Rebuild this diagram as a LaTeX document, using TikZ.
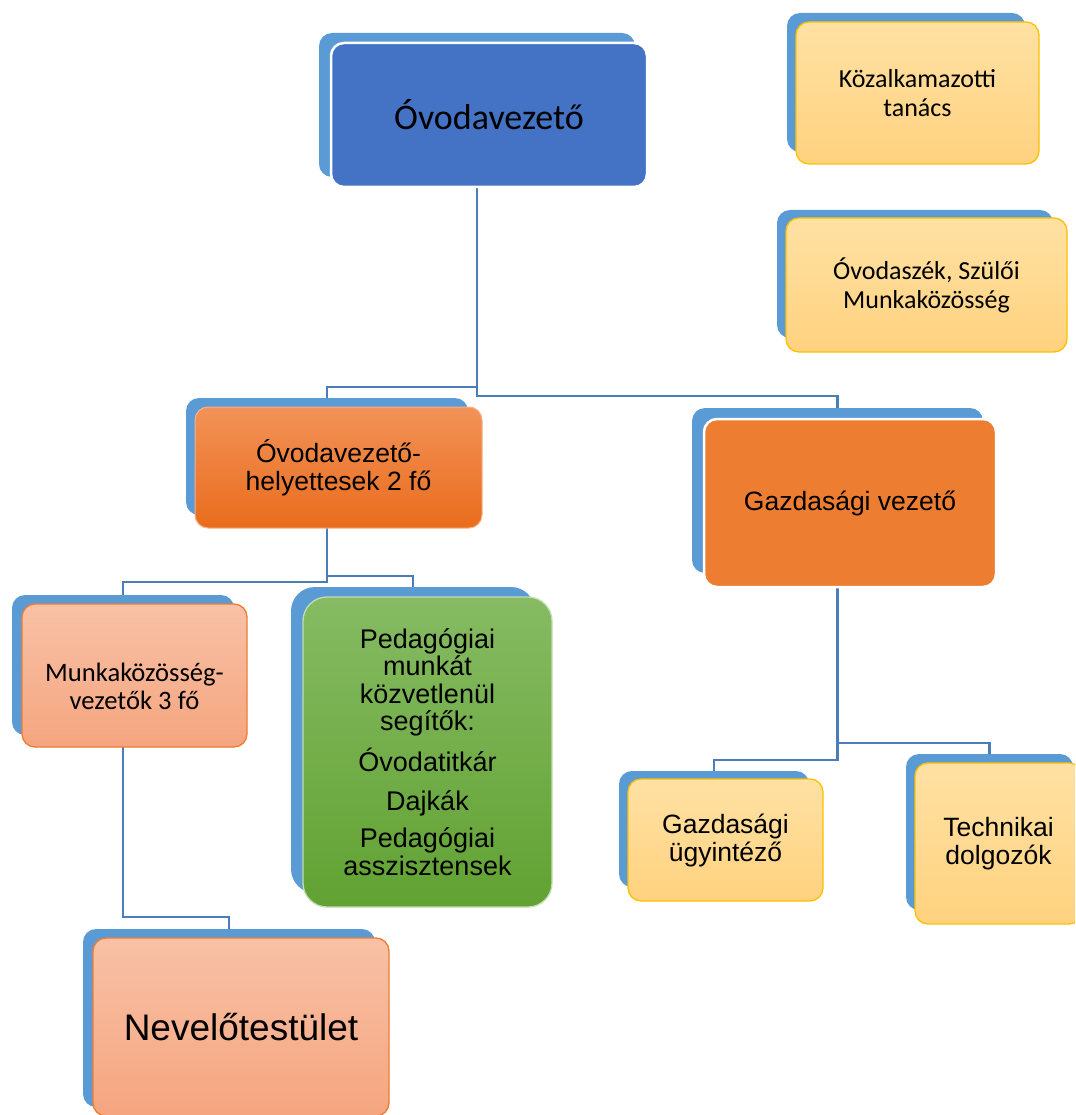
\documentclass[tikz,border=0pt]{standalone}
\usepackage{fontspec}
\setmainfont{Liberation Sans}
\newfontfamily\calfont{Carlito}
\definecolor{backblue}{HTML}{5B9BD5}
\definecolor{darkblue}{HTML}{4472C4}
\definecolor{conncol}{HTML}{4A7EBB}
\definecolor{goldline}{HTML}{FFC000}
\definecolor{yeltop}{HTML}{FFE1A3}
\definecolor{yelbot}{HTML}{FFD27F}
\definecolor{orgtop}{HTML}{F29258}
\definecolor{orgbot}{HTML}{E96C1C}
\definecolor{accorange}{HTML}{ED7D31}
\definecolor{salmtop}{HTML}{F8C1A6}
\definecolor{salmbot}{HTML}{F5A57F}
\definecolor{grtop}{HTML}{86BB63}
\definecolor{grbot}{HTML}{61A232}
\begin{document}
\begin{tikzpicture}[x=1pt,y=-1pt,
  bk/.style={fill=backblue, rounded corners=13pt, inner sep=0pt, outer sep=0pt},
  fr/.style={rounded corners=13pt, inner sep=2pt, outer sep=0pt, align=center, text=black},
  yelbox/.style={fr, top color=yeltop, bottom color=yelbot, draw=goldline, line width=1.3pt},
  salmbox/.style={fr, top color=salmtop, bottom color=salmbot, draw=accorange, line width=1.3pt},
  conn/.style={draw=conncol, line width=2.6pt},
  calsmall/.style={font={\calfont\fontsize{26}{29}\selectfont}},
  arl/.style={font={\fontsize{26.5}{28}\selectfont}}]
\useasboundingbox (0,0) rectangle (1075,1115);
\clip (0,0) rectangle (1075,1115);
% back boxes
\node[bk, minimum width=316pt, minimum height=144pt] (ovezB) at (477,105) {};
\node[bk, minimum width=238pt, minimum height=139pt] (kozalB) at (906,82.5) {};
\node[bk, minimum width=276pt, minimum height=128pt] (szuloB) at (915,274) {};
\node[bk, minimum width=282pt, minimum height=117pt] (helB) at (327,456.5) {};
\node[bk, minimum width=291pt, minimum height=165pt] (gazdvB) at (837.5,490.5) {};
\node[bk, minimum width=222pt, minimum height=140pt] (munkaB) at (123,665) {};
\node[bk, rounded corners=24pt, minimum width=244pt, minimum height=306pt] (greenB) at (413,740) {};
\node[bk, minimum width=190pt, minimum height=116pt] (gazduB) at (714,829) {};
\node[bk, minimum width=167pt, minimum height=156pt] (technB) at (989.5,832) {};
\node[bk, minimum width=292pt, minimum height=178pt] (nevelB) at (229,1018) {};
% connectors
\coordinate (j1) at (477,387);
\coordinate (j2) at (477,396);
\coordinate (j3) at (327,576);
\coordinate (j4) at (327,582);
\coordinate (j5) at (123,917);
\coordinate (j6) at (837.5,743);
\coordinate (j7) at (837.5,760);
\draw[conn] (ovezB.south) -- (j1) -| (helB.north);
\draw[conn] (ovezB.south) -- (j2) -| (gazdvB.north);
\draw[conn] (helB.south) -- (j3) -| (greenB.north);
\draw[conn] (helB.south) -- (j4) -| (munkaB.north);
\draw[conn] (munkaB.south) -- (j5) -| (nevelB.north);
\draw[conn] (gazdvB.south) -- (j6) -| (technB.north);
\draw[conn] (gazdvB.south) -- (j7) -| (gazduB.north);
% front boxes
\node[fr, fill=darkblue, draw=white, line width=2.5pt, minimum width=316pt, minimum height=144pt,
  font={\calfont\fontsize{36}{40}\selectfont}] (ovez) at (489,115) {Óvodavezető};
\node[yelbox, calsmall, minimum width=243pt, minimum height=142pt] (kozal) at (917.5,93) {Közalkamazotti\\tanács};
\node[yelbox, calsmall, minimum width=281pt, minimum height=134pt] (szulo) at (926.5,285) {Óvodaszék, Szülői\\Munkaközösség};
\node[fr, top color=orgtop, bottom color=orgbot, draw=orgtop!70!white, line width=1pt, arl,
  minimum width=287pt, minimum height=121pt] (hel) at (338.5,467.5) {Óvodavezető-\\helyettesek 2 fő};
\node[fr, fill=accorange, draw=white, line width=2.5pt, arl, minimum width=292pt, minimum height=168pt] (gazdv) at (850,503) {Gazdasági vezető};
\node[salmbox, font={\calfont\fontsize{26.6}{27.5}\selectfont}, minimum width=225pt, minimum height=143pt,
  text depth=0pt] (munka) at (134.5,675.5) {\raisebox{-8pt}{\begin{tabular}{@{}c@{}}Munkaközösség-\\vezetők 3 fő\end{tabular}}};
\node[fr, rounded corners=24pt, top color=grtop, bottom color=grbot, draw=grtop!50!white, line width=1.3pt,
  font={\fontsize{27}{27.5}\selectfont}, minimum width=249pt, minimum height=310pt] (green) at (427.5,752)
  {Pedagógiai\\munkát\\közvetlenül\\segítők:\\[11pt]Óvodatitkár\\[11pt]Dajkák\\[10pt]Pedagógiai\\asszisztensek};
\node[yelbox, arl, minimum width=195pt, minimum height=122pt] (gazdu) at (725.5,840) {Gazdasági\\ügyintéző};
\node[yelbox, arl, minimum width=167pt, minimum height=161pt] (techn) at (998.5,843.5) {Technikai\\dolgozók};
\node[salmbox, font={\fontsize{37}{40}\selectfont}, minimum width=296pt, minimum height=178pt] (nevel) at (241,1027) {Nevelőtestület};
\end{tikzpicture}
\end{document}
